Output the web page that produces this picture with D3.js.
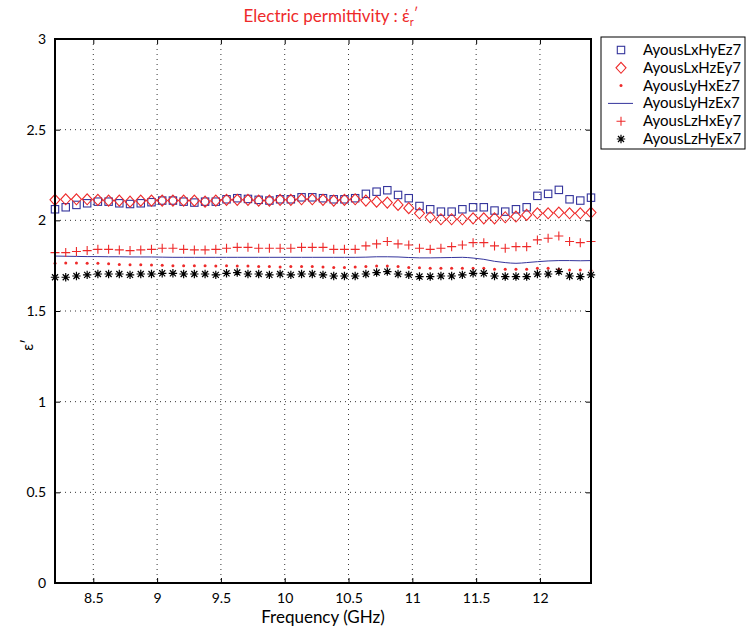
<!DOCTYPE html>
<html>
<head>
<meta charset="utf-8">
<script src="https://cdn.jsdelivr.net/npm/d3@7"></script>
<style>
  html, body { margin: 0; padding: 0; background: #fff; }
  svg { display: block; font-family: Lato, "Noto Sans", sans-serif; }
</style>
</head>
<body>
<svg id="chart" width="747" height="632"></svg>
<script>
// Frequency sweep (GHz), 51 points across X-band
const fStart = 8.2, fEnd = 12.4, nPts = 51;
const frequency = d3.range(nPts).map(i => +(fStart + i * (fEnd - fStart) / (nPts - 1)).toFixed(3));

const xTicks = [8.5, 9, 9.5, 10, 10.5, 11, 11.5, 12];
const yTicks = [0, 0.5, 1, 1.5, 2, 2.5, 3];

// Real part of relative permittivity for each orientation
const AyousLxHyEz7 = [2.061, 2.072, 2.085, 2.094, 2.103, 2.103, 2.094, 2.090, 2.094, 2.100,
  2.109, 2.109, 2.103, 2.098, 2.103, 2.103, 2.116, 2.122, 2.118, 2.113,
  2.109, 2.116, 2.116, 2.127, 2.127, 2.122, 2.116, 2.116, 2.122, 2.146,
  2.158, 2.166, 2.140, 2.122, 2.079, 2.061, 2.048, 2.048, 2.061, 2.072,
  2.072, 2.054, 2.048, 2.061, 2.072, 2.135, 2.146, 2.168, 2.116, 2.109, 2.125];

const AyousLxHzEy7 = [2.113, 2.116, 2.116, 2.116, 2.113, 2.109, 2.109, 2.103, 2.109, 2.109,
  2.109, 2.109, 2.109, 2.109, 2.103, 2.109, 2.113, 2.113, 2.113, 2.109,
  2.109, 2.113, 2.113, 2.116, 2.116, 2.113, 2.109, 2.113, 2.116, 2.109,
  2.103, 2.098, 2.085, 2.067, 2.039, 2.017, 2.006, 2.006, 2.006, 2.011,
  2.011, 2.011, 2.017, 2.021, 2.030, 2.039, 2.039, 2.043, 2.039, 2.039, 2.043];

const AyousLyHxEz7 = [1.763, 1.765, 1.765, 1.763, 1.763, 1.760, 1.757, 1.755, 1.755, 1.754,
  1.752, 1.750, 1.750, 1.750, 1.750, 1.748, 1.750, 1.748, 1.748, 1.745,
  1.745, 1.743, 1.745, 1.745, 1.745, 1.743, 1.740, 1.740, 1.743, 1.745,
  1.748, 1.748, 1.745, 1.740, 1.738, 1.736, 1.736, 1.736, 1.736, 1.736,
  1.736, 1.730, 1.730, 1.730, 1.730, 1.736, 1.736, 1.730, 1.726, 1.726, 1.723];

const AyousLyHzEx7 = [1.803, 1.802, 1.801, 1.800, 1.800, 1.799, 1.799, 1.798, 1.798, 1.798,
  1.797, 1.796, 1.796, 1.796, 1.796, 1.796, 1.796, 1.796, 1.796, 1.796,
  1.796, 1.796, 1.796, 1.796, 1.796, 1.796, 1.796, 1.796, 1.796, 1.797,
  1.799, 1.799, 1.798, 1.795, 1.793, 1.793, 1.794, 1.795, 1.796, 1.792,
  1.785, 1.774, 1.767, 1.763, 1.767, 1.772, 1.776, 1.778, 1.778, 1.777, 1.778];

const AyousLzHxEy7 = [1.822, 1.822, 1.828, 1.833, 1.840, 1.840, 1.837, 1.833, 1.837, 1.840,
  1.846, 1.846, 1.840, 1.837, 1.837, 1.840, 1.846, 1.851, 1.851, 1.846,
  1.846, 1.846, 1.846, 1.851, 1.851, 1.851, 1.840, 1.840, 1.840, 1.859,
  1.870, 1.883, 1.870, 1.864, 1.846, 1.840, 1.846, 1.855, 1.864, 1.877,
  1.877, 1.859, 1.846, 1.855, 1.855, 1.892, 1.901, 1.914, 1.883, 1.877, 1.883];

const AyousLzHyEx7 = [1.686, 1.686, 1.693, 1.699, 1.704, 1.704, 1.704, 1.699, 1.704, 1.704,
  1.708, 1.708, 1.704, 1.704, 1.704, 1.699, 1.708, 1.712, 1.704, 1.704,
  1.699, 1.704, 1.699, 1.704, 1.704, 1.699, 1.693, 1.693, 1.693, 1.704,
  1.712, 1.717, 1.704, 1.699, 1.690, 1.690, 1.693, 1.693, 1.699, 1.708,
  1.708, 1.693, 1.690, 1.690, 1.690, 1.704, 1.704, 1.717, 1.693, 1.690, 1.699];

const seriesNames = ["AyousLxHyEz7", "AyousLxHzEy7", "AyousLyHxEz7", "AyousLyHzEx7", "AyousLzHxEy7", "AyousLzHyEx7"];
const seriesValues = [AyousLxHyEz7, AyousLxHzEy7, AyousLyHxEz7, AyousLyHzEx7, AyousLzHxEy7, AyousLzHyEx7];
const seriesKinds = ["square", "diamond", "dot", "line", "plus", "asterisk"];
const seriesColors = ["#34349c", "#ee2a2a", "#ee2a2a", "#34349c", "#ee2a2a", "#000000"];

const svg = d3.select("#chart");
const m = { left: 55, right: 591, top: 39, bottom: 583 };

const x = d3.scaleLinear().domain([fStart, fEnd]).range([m.left, m.right]);
const y = d3.scaleLinear().domain([0, 3]).range([m.bottom, m.top]);

// dotted grid
const grid = svg.append("g");
grid.selectAll("line.gx").data(xTicks).join("line")
  .attr("x1", d => x(d)).attr("x2", d => x(d))
  .attr("y1", m.top).attr("y2", m.bottom)
  .attr("stroke", "#000").attr("stroke-width", 0.8).attr("stroke-dasharray", "1,4");
grid.selectAll("line.gy").data(yTicks.filter(t => t > 0 && t < 3)).join("line")
  .attr("x1", m.left).attr("x2", m.right)
  .attr("y1", d => y(d)).attr("y2", d => y(d))
  .attr("stroke", "#000").attr("stroke-width", 0.8).attr("stroke-dasharray", "1,4");

// axes with inward ticks on all four sides
const fmt = d => String(d);
svg.append("g").attr("transform", `translate(0,${m.bottom})`)
  .call(d3.axisBottom(x).tickValues(xTicks).tickSize(-5).tickPadding(10).tickFormat(fmt))
  .call(g => g.select(".domain").remove());
svg.append("g").attr("transform", `translate(0,${m.top})`)
  .call(d3.axisTop(x).tickValues(xTicks).tickSize(-5).tickFormat(""))
  .call(g => g.select(".domain").remove());
svg.append("g").attr("transform", `translate(${m.left},0)`)
  .call(d3.axisLeft(y).tickValues(yTicks).tickSize(-5).tickPadding(9).tickFormat(fmt))
  .call(g => g.select(".domain").remove());
svg.append("g").attr("transform", `translate(${m.right},0)`)
  .call(d3.axisRight(y).tickValues(yTicks).tickSize(-5).tickFormat(""))
  .call(g => g.select(".domain").remove());
svg.selectAll(".tick text").attr("font-size", 14).attr("fill", "#000")
  .attr("font-family", "Lato, 'Noto Sans', sans-serif");
svg.selectAll(".tick line").attr("stroke", "#000");

// series
const plot = svg.append("g");
function drawMarker(g, kind, color, cx, cy) {
  if (kind === "square") {
    g.append("rect").attr("x", cx - 3.7).attr("y", cy - 3.7).attr("width", 7.4).attr("height", 7.4)
      .attr("fill", "none").attr("stroke", color).attr("stroke-width", 1.1);
  } else if (kind === "diamond") {
    g.append("path").attr("d", `M${cx},${cy - 5.5}L${cx + 5},${cy}L${cx},${cy + 5.5}L${cx - 5},${cy}Z`)
      .attr("fill", "none").attr("stroke", color).attr("stroke-width", 1.1);
  } else if (kind === "dot") {
    g.append("circle").attr("cx", cx).attr("cy", cy).attr("r", 1.5).attr("fill", color);
  } else if (kind === "plus") {
    g.append("path").attr("d", `M${cx - 4.5},${cy}H${cx + 4.5}M${cx},${cy - 4.5}V${cy + 4.5}`)
      .attr("stroke", color).attr("stroke-width", 1.1);
  } else if (kind === "asterisk") {
    const r = 4.2, d = r * 0.72;
    g.append("path").attr("d",
      `M${cx - r},${cy}H${cx + r}M${cx},${cy - r}V${cy + r}` +
      `M${cx - d},${cy - d}L${cx + d},${cy + d}M${cx - d},${cy + d}L${cx + d},${cy - d}`)
      .attr("stroke", color).attr("stroke-width", 1.2);
  }
}

seriesValues.forEach((vals, k) => {
  const kind = seriesKinds[k], color = seriesColors[k];
  const g = plot.append("g");
  if (kind === "line") {
    g.append("path").datum(vals)
      .attr("d", d3.line().x((v, i) => x(frequency[i])).y(v => y(v)).curve(d3.curveMonotoneX))
      .attr("fill", "none").attr("stroke", color).attr("stroke-width", 1);
  } else {
    vals.forEach((v, i) => drawMarker(g, kind, color, x(frequency[i]), y(v)));
  }
});

// axes frame
svg.append("rect").attr("x", m.left).attr("y", m.top)
  .attr("width", m.right - m.left).attr("height", m.bottom - m.top)
  .attr("fill", "none").attr("stroke", "#000").attr("stroke-width", 2);

// title
const title = svg.append("text").attr("x", 331).attr("y", 22).attr("text-anchor", "middle")
  .attr("fill", "#ee2a2a").attr("font-size", 17);
title.append("tspan").text("Electric permittivity : έ");
title.append("tspan").attr("font-size", 11).attr("dy", 4).text("r");
title.append("tspan").attr("font-size", 14).attr("dy", -8).text("′");

// axis labels
svg.append("text").attr("x", (m.left + m.right) / 2).attr("y", 623).attr("text-anchor", "middle")
  .attr("font-size", 17).attr("fill", "#000").text("Frequency (GHz)");
svg.append("text").attr("transform", "translate(33,345) rotate(-90)").attr("text-anchor", "middle")
  .attr("font-size", 15).attr("fill", "#000").text("ε′");

// legend
const lg = svg.append("g").attr("transform", "translate(601,37)");
lg.append("rect").attr("width", 144).attr("height", 112)
  .attr("fill", "#fff").attr("stroke", "#000").attr("stroke-width", 1);
seriesNames.forEach((name, k) => {
  const ry = 13 + k * 17.8;
  const row = lg.append("g");
  if (seriesKinds[k] === "line") {
    row.append("line").attr("x1", 7).attr("x2", 32).attr("y1", ry).attr("y2", ry)
      .attr("stroke", seriesColors[k]).attr("stroke-width", 1);
  } else {
    drawMarker(row, seriesKinds[k], seriesColors[k], 20, ry);
  }
  row.append("text").attr("x", 42).attr("y", ry + 5).attr("font-size", 15).attr("fill", "#000").text(name);
});
</script>
</body>
</html>
